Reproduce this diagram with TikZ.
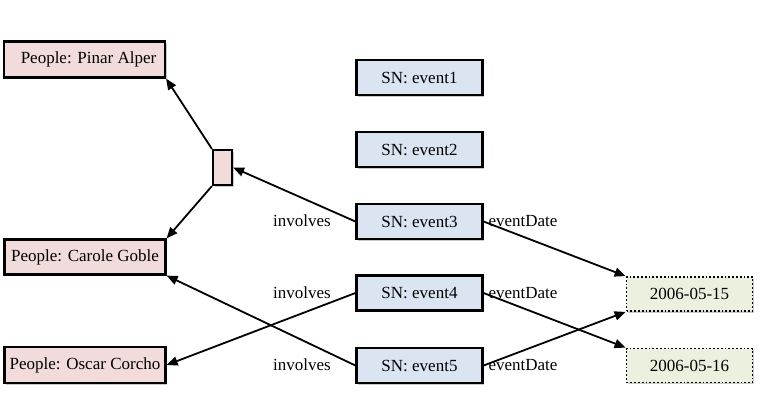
\documentclass[tikz,border=0pt]{standalone}
\usepackage{fontspec}
\setmainfont{Liberation Serif}
\usetikzlibrary{arrows.meta,shadows}
\definecolor{pinkfill}{HTML}{F2DCDB}
\definecolor{bluefill}{HTML}{DBE5F1}
\definecolor{greenfill}{HTML}{EBF1DE}
\tikzset{
  x=1pt,y=1pt,
  base/.style={draw=black,inner sep=0pt,font=\fontsize{17}{19}\selectfont,
    drop shadow={shadow xshift=1.5pt,shadow yshift=-1.5pt,fill=black!35,opacity=0.6}},
  person/.style={base,line width=2.2pt,fill=pinkfill,minimum width=161pt,minimum height=36pt},
  event/.style={base,line width=2.2pt,fill=bluefill,minimum width=126pt,minimum height=35pt},
  datebox/.style={base,line width=1.8pt,dotted,fill=greenfill,minimum width=126pt,minimum height=34pt},
  lbl/.style={font=\fontsize{17}{19}\selectfont,inner sep=0pt},
  conn/.style={line width=1.8pt,-{Triangle[length=11pt,width=9pt]}}
}
\begin{document}
\begin{tikzpicture}
\useasboundingbox (0,0) rectangle (772,-405);
\node[person] (pinar) at (84.5,-59.5) {\hspace*{8pt}People: Pinar Alper};
\node[person,minimum height=35pt] (carole) at (85,-257) {People: Carole Goble};
\node[person] (oscar) at (85,-365) {People: Oscar Corcho};
\node[base,line width=2.2pt,fill=pinkfill,minimum width=19pt,minimum height=35pt] (blank) at (222.5,-167.5) {};
\node[event] (e1) at (419.5,-77.5) {SN: event1};
\node[event] (e2) at (419.5,-149.5) {SN: event2};
\node[event] (e3) at (419.5,-221.5) {SN: event3};
\node[event] (e4) at (419.5,-293) {SN: event4};
\node[event] (e5) at (419.5,-365.5) {SN: event5};
\node[datebox] (d15) at (689.5,-294) {2006-05-15};
\node[datebox] (d16) at (689.5,-365.5) {2006-05-16};
\node[lbl] (i3) at (302,-221) {involves};
\node[lbl] (i4) at (302,-293) {involves};
\node[lbl] (i5) at (302,-365) {involves};
\node[lbl] (t3) at (523,-221) {eventDate};
\node[lbl] (t4) at (523,-293) {eventDate};
\node[lbl] (t5) at (523,-365) {eventDate};
\draw[conn] (e3.west) -- (blank.east);
\draw[conn] (blank.north west) -- (pinar.south east);
\draw[conn] (blank.south west) -- (carole.north east);
\draw[conn] (e5.west) -- (carole.south east);
\draw[conn] (e4.west) -- (oscar.east);
\draw[conn] (e3.east) -- (d15.north west);
\draw[conn] (e4.east) -- (d16.north west);
\draw[conn] (e5.east) -- (d15.south west);
\end{tikzpicture}
\end{document}
